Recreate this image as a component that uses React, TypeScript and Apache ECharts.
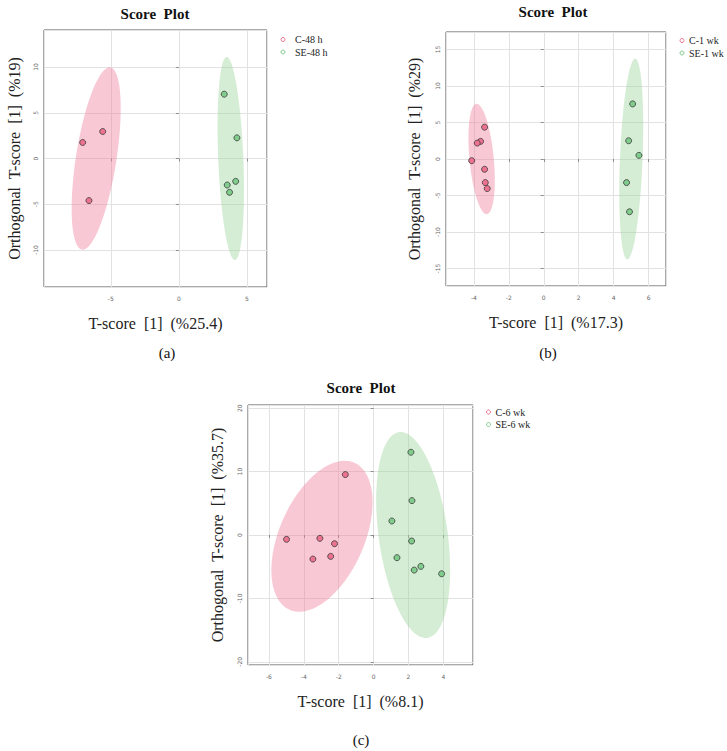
import React, { useEffect, useRef } from "react";
import * as echarts from "echarts";

// ---- Panel (a): 48 h ----
const namesA = ["C-48 h", "SE-48 h"];
const ctrlA: [number, number][] = [[-7.06, 1.75], [-5.59, 2.95], [-6.6, -4.6]];
const seA: [number, number][] = [[3.33, 7.03], [4.26, 2.26], [4.17, -2.5], [3.55, -2.9], [3.72, -3.7]];
// confidence ellipses: [centerX, centerY, halfWidth, halfHeight, correlation]
const ellCtrlA = [-6.07, 0, 1.8, 9.97, 0.55];
const ellSeA = [3.81, 0, 0.97, 11.1, -0.31];
const xTitleA = "T-score  [1]  (%25.4)";
const yTitleA = "Orthogonal  T-score  [1]  (%19)";

// ---- Panel (b): 1 wk ----
const namesB = ["C-1 wk", "SE-1 wk"];
const ctrlB: [number, number][] = [[-3.39, 4.36], [-3.62, 2.41], [-3.81, 2.18], [-4.13, -0.23], [-3.39, -1.41], [-3.35, -3.23], [-3.24, -4.05]];
const seB: [number, number][] = [[5.09, 7.55], [4.86, 2.5], [5.45, 0.5], [4.74, -3.23], [4.91, -7.23]];
const ellCtrlB = [-3.56, 0, 0.754, 7.56, -0.38];
const ellSeB = [5.01, 0, 0.686, 13.75, 0.33];
const xTitleB = "T-score  [1]  (%17.3)";
const yTitleB = "Orthogonal  T-score  [1]  (%29)";

// ---- Panel (c): 6 wk ----
const namesC = ["C-6 wk", "SE-6 wk"];
const ctrlC: [number, number][] = [[-4.99, -0.68], [-3.08, -0.53], [-2.24, -1.37], [-3.48, -3.79], [-2.46, -3.37], [-1.62, 9.53]];
const seC: [number, number][] = [[2.14, 13.05], [2.2, 5.42], [1.05, 2.21], [2.18, -0.95], [1.34, -3.58], [2.33, -5.53], [2.71, -4.95], [3.9, -6.11]];
const ellCtrlC = [-2.96, -0.2, 2.9, 11.9, 0.45];
const ellSeC = [2.27, 0, 2.12, 16.24, -0.34];
const xTitleC = "T-score  [1]  (%8.1)";
const yTitleC = "Orthogonal  T-score  [1]  (%35.7)";

// axis extents and tick steps per panel
const xRange = [[-9.9, 6.47], [-5.6, 7.0], [-7.2, 5.7]];
const yRange = [[-14.05, 14.05], [-17.4, 17.4], [-20.5, 20.5]];
const xStep = [5, 2, 2];
const yStep = [5, 5, 10];
const panelLabels = ["(a)", "(b)", "(c)"];

const SERIF = "'Liberation Serif','Times New Roman',serif";
const PINK = "#EC7290";
const GREEN = "#80CC8C";
const PINK_FILL = "rgba(238,123,153,0.42)";
const GREEN_FILL = "rgba(153,213,153,0.42)";

// plot boxes in pixels
const grids = [
  { left: 44, top: 30, width: 223, height: 257 },
  { left: 446, top: 32, width: 220, height: 254 },
  { left: 248, top: 405, width: 225, height: 260 },
];

function ellipseSeries(name: string, ell: number[], fill: string, idx: number) {
  const [cx, cy, rx, ry, rho] = ell;
  const s = Math.sqrt(1 - rho * rho);
  return {
    type: "custom",
    name,
    xAxisIndex: idx,
    yAxisIndex: idx,
    silent: true,
    z: 1,
    data: [[cx, cy]],
    renderItem: (_p: any, api: any) => {
      const pts: number[][] = [];
      const n = 160;
      for (let i = 0; i < n; i++) {
        const t = (i / n) * Math.PI * 2;
        pts.push(api.coord([cx + rx * Math.cos(t), cy + ry * (rho * Math.cos(t) + s * Math.sin(t))]));
      }
      return { type: "polygon", shape: { points: pts }, style: { fill } };
    },
  };
}

function scatterSeries(name: string, data: [number, number][], color: string, idx: number) {
  return {
    type: "scatter",
    name,
    xAxisIndex: idx,
    yAxisIndex: idx,
    z: 3,
    data,
    symbolSize: 6,
    itemStyle: { color, borderColor: "#3a3a3a", borderWidth: 0.8, opacity: 1 },
  };
}

function xAxis(i: number, title: string) {
  return {
    type: "value",
    gridIndex: i,
    min: xRange[i][0],
    max: xRange[i][1],
    minInterval: xStep[i],
    maxInterval: xStep[i],
    axisLine: { show: false },
    axisTick: { show: true, length: 3, lineStyle: { color: "#777", width: 0.8 } },
    axisLabel: { fontSize: 6, color: "#666", margin: 8, showMinLabel: false, showMaxLabel: false, fontFamily: "DejaVu Sans" },
    splitLine: { show: true, lineStyle: { color: "#e2e2e2", width: 1 } },
    name: title,
    nameLocation: "middle",
    nameGap: 28,
    nameTextStyle: { fontFamily: SERIF, fontSize: 16, color: "#222" },
  };
}

function yAxis(i: number, title: string, gap: number) {
  return {
    type: "value",
    gridIndex: i,
    min: yRange[i][0],
    max: yRange[i][1],
    minInterval: yStep[i],
    maxInterval: yStep[i],
    axisLine: { show: false },
    axisTick: { show: true, length: 3, lineStyle: { color: "#777", width: 0.8 } },
    axisLabel: { fontSize: 6, color: "#666", margin: 6, rotate: 90, showMinLabel: false, showMaxLabel: false, fontFamily: "DejaVu Sans" },
    splitLine: { show: true, lineStyle: { color: "#e2e2e2", width: 1 } },
    name: title,
    nameLocation: "middle",
    nameGap: gap,
    nameTextStyle: { fontFamily: SERIF, fontSize: 16, color: "#222" },
  };
}

function legend(names: string[], left: number, top: number, textGap: number) {
  return {
    orient: "vertical",
    left,
    top,
    itemWidth: 4,
    itemHeight: 4,
    itemGap: 0.5,
    icon: "circle",
    textStyle: { fontFamily: SERIF, fontSize: 10, color: "#222", lineHeight: 12, padding: [0, 0, 0, textGap] },
    data: [
      { name: names[0], itemStyle: { color: "#fff", borderColor: PINK, borderWidth: 1 } },
      { name: names[1], itemStyle: { color: "#fff", borderColor: GREEN, borderWidth: 1 } },
    ],
    selectedMode: false,
  };
}

function titleText(text: string, x: number, y: number, bold: boolean, size: number) {
  return {
    type: "text",
    x,
    y,
    style: {
      text,
      fontFamily: SERIF,
      fontSize: size,
      fontWeight: bold ? "bold" : "normal",
      fill: "#111",
      textAlign: "center",
      textVerticalAlign: "middle",
    },
  };
}

export default function App() {
  const ref = useRef<HTMLDivElement>(null);
  useEffect(() => {
    if (!ref.current) return;
    const chart = echarts.init(ref.current, undefined, { renderer: "svg" });
    chart.setOption({
      animation: false,
      backgroundColor: "#fff",
      grid: grids.map((g) => ({ ...g, show: true, borderColor: "#555", borderWidth: 1, backgroundColor: "transparent" })),
      xAxis: [xAxis(0, xTitleA), xAxis(1, xTitleB), xAxis(2, xTitleC)],
      yAxis: [yAxis(0, yTitleA, 22), yAxis(1, yTitleB, 24), yAxis(2, yTitleC, 23)],
      legend: [legend(namesA, 275.5, 28.5, 5), legend(namesB, 674.5, 29.5, 0), legend(namesC, 481, 401, 0)],
      series: [
        ellipseSeries("ellipse C-48 h", ellCtrlA, PINK_FILL, 0),
        ellipseSeries("ellipse SE-48 h", ellSeA, GREEN_FILL, 0),
        scatterSeries(namesA[0], ctrlA, PINK, 0),
        scatterSeries(namesA[1], seA, GREEN, 0),
        ellipseSeries("ellipse C-1 wk", ellCtrlB, PINK_FILL, 1),
        ellipseSeries("ellipse SE-1 wk", ellSeB, GREEN_FILL, 1),
        scatterSeries(namesB[0], ctrlB, PINK, 1),
        scatterSeries(namesB[1], seB, GREEN, 1),
        ellipseSeries("ellipse C-6 wk", ellCtrlC, PINK_FILL, 2),
        ellipseSeries("ellipse SE-6 wk", ellSeC, GREEN_FILL, 2),
        scatterSeries(namesC[0], ctrlC, PINK, 2),
        scatterSeries(namesC[1], seC, GREEN, 2),
      ],
      graphic: [
        titleText("Score  Plot", 155, 14, true, 15),
        titleText("Score  Plot", 553, 12, true, 15),
        titleText("Score  Plot", 361, 388, true, 15),
        titleText(panelLabels[0], 167, 353, false, 15),
        titleText(panelLabels[1], 548, 353, false, 15),
        titleText(panelLabels[2], 361, 740, false, 15),
      ],
    });
    return () => chart.dispose();
  }, []);
  return (
    <div
      ref={ref}
      style={{ position: "absolute", left: 0, top: 0, width: 727, height: 751, background: "#fff" }}
    />
  );
}
